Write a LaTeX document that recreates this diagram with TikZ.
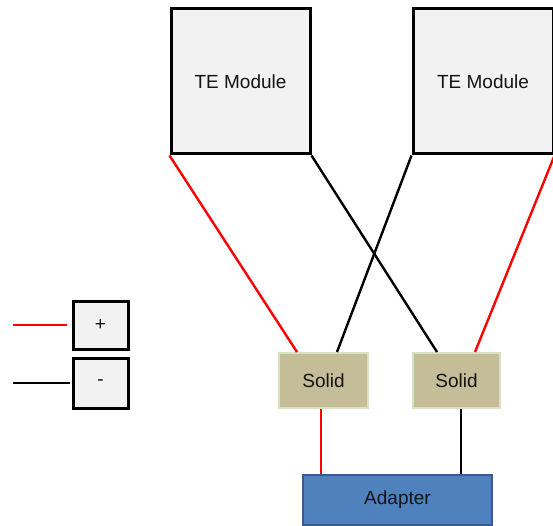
\documentclass[tikz,border=0pt]{standalone}
\usepackage{fontspec}
\setmainfont{Liberation Sans}
\usetikzlibrary{calc}
\definecolor{boxgray}{RGB}{242,242,242}
\definecolor{solidfill}{RGB}{196,189,151}
\definecolor{solidedge}{RGB}{216,226,190}
\definecolor{adfill}{RGB}{79,129,189}
\definecolor{adedge}{RGB}{56,93,138}
\definecolor{wirered}{RGB}{255,0,0}
\definecolor{txt}{RGB}{20,20,20}
\tikzset{
  tebox/.style={draw=black, line width=3pt, fill=boxgray, minimum width=139pt, minimum height=145pt, inner sep=0pt, text=txt, font=\fontsize{19}{22}\selectfont},
  legbox/.style={draw=black, line width=3pt, fill=boxgray, minimum width=55pt, inner sep=0pt, text=txt, font=\fontsize{19}{22}\selectfont},
  solidbox/.style={draw=solidedge, line width=2pt, fill=solidfill, minimum height=55pt, inner sep=0pt, text=txt, font=\fontsize{19}{22}\selectfont},
  adbox/.style={draw=adedge, line width=1.6pt, fill=adfill, minimum width=189pt, minimum height=50pt, inner sep=0pt, text=txt, font=\fontsize{19}{22}\selectfont},
  redwire/.style={draw=wirered, line width=2.4pt},
  blackwire/.style={draw=black, line width=2.4pt},
}
\begin{document}
\begin{tikzpicture}[x=1pt, y=-1pt]
\useasboundingbox (0,0) rectangle (553,526);
\node[tebox] (te1) at (240.5,81.5) {TE Module};
\node[tebox, minimum width=140pt] (te2) at (483,81.5) {TE Module};
\node[solidbox, minimum width=89pt] (s1) at (323.5,380.5) {Solid};
\node[solidbox, minimum width=87pt] (s2) at (456.5,380.5) {Solid};
\node[adbox] (ad) at (397.5,500) {Adapter};
\node[legbox, minimum height=48pt] (plus) at (100.5,325) {+};
\node[legbox, minimum height=50pt] (minus) at (100.5,383) {-};
\coordinate (pl) at (13,325);
\coordinate (ml) at (13,383);
% wires between modules and solids
\draw[redwire] (te1.south west) -- ([xshift=19pt]s1.north west);
\draw[blackwire] (te1.south east) -- ([xshift=25pt]s2.north west);
\draw[blackwire] (te2.south west) -- ([xshift=59pt]s1.north west);
\draw[redwire] (te2.south east) -- ([xshift=63pt]s2.north west);
% wires to adapter
\draw[redwire] ([xshift=43pt]s1.south west) -- ([xshift=43pt]s1.south west |- ad.north);
\draw[blackwire] ([xshift=49pt]s2.south west) -- ([xshift=49pt]s2.south west |- ad.north);
% legend
\draw[redwire, shorten >=5pt] (pl) -- (plus.west);
\draw[blackwire, shorten >=2pt] (ml) -- (minus.west);
\end{tikzpicture}
\end{document}
